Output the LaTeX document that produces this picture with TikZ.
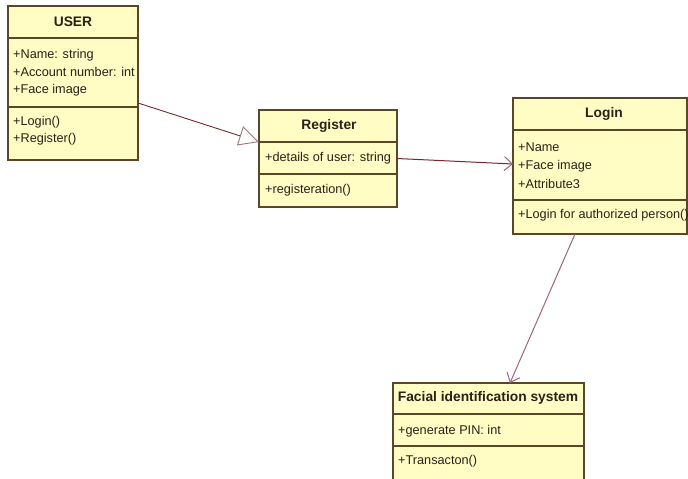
\documentclass[tikz,border=0pt]{standalone}
\usepackage{fontspec}
\setmainfont{Liberation Sans}
\usetikzlibrary{arrows.meta}
\definecolor{classfill}{RGB}{255,252,196}
\definecolor{classline}{RGB}{90,70,40}
\definecolor{classtext}{RGB}{40,34,24}
\definecolor{linkdark}{RGB}{120,40,45}
\definecolor{linklight}{RGB}{160,100,130}
\definecolor{tipgray}{RGB}{150,120,125}
\tikzset{
  classbox/.style={draw=classline, fill=classfill, line width=1.2pt,
    inner sep=0pt, outer sep=0pt, anchor=north west},
  divider/.style={draw=classline, line width=1.2pt},
  member/.style={anchor=west, inner sep=0pt, text=classtext,
    font=\fontsize{12.7}{15}\selectfont},
  title/.style={anchor=center, inner sep=0pt, text=classtext,
    font=\fontsize{13.8}{16}\selectfont\bfseries},
  genlink/.style={draw=linkdark, line width=0.9pt,
    -{Triangle[open, length=20pt, width=20pt, color=tipgray, fill=white]}},
  assoclink/.style={draw=linkdark, line width=1pt,
    -{Straight Barb[length=8pt, width=14pt, color=linklight]}},
  assoclight/.style={draw=linklight, line width=1pt,
    -{Straight Barb[length=8pt, width=14pt]}}
}
\begin{document}
\begin{tikzpicture}[x=1pt, y=-1pt]
\useasboundingbox (0,0) rectangle (688,479);
\clip (0,0) rectangle (688,479);

% USER class
\node[classbox, minimum width=130pt, minimum height=154pt] (user) at (8,6) {};
\draw[divider] (8,38) -- (138,38);
\draw[divider] (8,107) -- (138,107);
\node[title] (usert) at (73,22) {USER};
\node[member] (ua1) at (13,55) {+Name: string};
\node[member] (ua2) at (13,72) {+Account number: int};
\node[member] (ua3) at (13,90) {+Face image};
\node[member] (uo1) at (13,122) {+Login()};
\node[member] (uo2) at (13,139) {+Register()};

% Register class
\node[classbox, minimum width=138pt, minimum height=97pt] (reg) at (259,110) {};
\draw[divider] (259,142) -- (397,142);
\draw[divider] (259,174) -- (397,174);
\node[title] (regt) at (329,126) {Register};
\node[member] (ra1) at (265,158) {+details of user: string};
\node[member] (ro1) at (265,190) {+registeration()};

% Login class
\node[classbox, minimum width=174pt, minimum height=136pt] (login) at (513,98) {};
\draw[divider] (513,130) -- (687,130);
\draw[divider] (513,200) -- (687,200);
\node[title] (logint) at (604,114) {Login};
\node[member] (la1) at (518,147) {+Name};
\node[member] (la2) at (518,166) {+Face image};
\node[member] (la3) at (518,184) {+Attribute3};
\node[member] (lo1) at (518,215) {+Login for authorized person()};

% Facial identification system class
\node[classbox, minimum width=191pt, minimum height=110pt] (face) at (393,383) {};
\draw[divider] (393,414) -- (584,414);
\draw[divider] (393,446) -- (584,446);
\node[title] (facet) at (488,398) {Facial identification system};
\node[member] (fa1) at (398,431) {+generate PIN: int};
\node[member] (fo1) at (398,461) {+Transacton()};

% relationships
\draw[genlink] ([yshift=-20pt]user.east) -- ([yshift=16.5pt]reg.west);
\draw[assoclink] (reg.east) -- ([yshift=2pt]login.west);
\draw[assoclight] ([xshift=-25pt]login.south) -- ([xshift=21.5pt]face.north);
\end{tikzpicture}
\end{document}
